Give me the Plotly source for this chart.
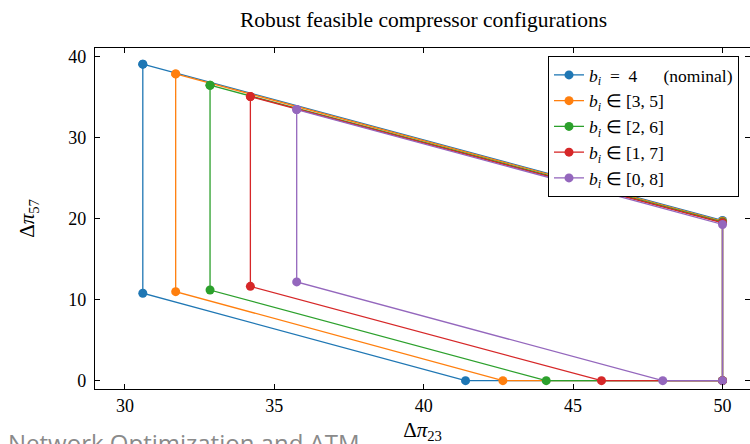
import plotly.graph_objects as go

# Data (Δπ23, Δπ57 polygon vertices)
series_names = [
    "<i>b<sub>i</sub></i>\u2002=\u20024\u2003\u2002(nominal)",
    "<i>b<sub>i</sub></i> ∈ [3, 5]",
    "<i>b<sub>i</sub></i> ∈ [2, 6]",
    "<i>b<sub>i</sub></i> ∈ [1, 7]",
    "<i>b<sub>i</sub></i> ∈ [0, 8]",
]
colors = ["#1f77b4", "#ff7f0e", "#2ca02c", "#d62728", "#9467bd"]

left_x = [30.6, 31.7, 32.85, 34.2, 35.75]
top_left_y = [39.1, 37.9, 36.5, 35.1, 33.5]
bottom_left_y = [10.8, 11.0, 11.2, 11.65, 12.2]
bottom_mid_x = [41.4, 42.65, 44.1, 45.95, 48.0]
right_x = [50.0, 50.0, 50.0, 50.0, 50.0]
top_right_y = [19.8, 19.7, 19.6, 19.5, 19.3]

x_ticks = [30, 35, 40, 45, 50]
y_ticks = [0, 10, 20, 30, 40]

W, H = 750, 444
ml, mt, mb, mr = 95, 48, 55, 0
plot_h = H - mt - mb

fig = go.Figure()
for i, name in enumerate(series_names):
    xs = [left_x[i], left_x[i], bottom_mid_x[i], right_x[i], right_x[i], left_x[i]]
    ys = [top_left_y[i], bottom_left_y[i], 0, 0, top_right_y[i], top_left_y[i]]
    fig.add_trace(go.Scatter(
        x=xs, y=ys, mode="lines+markers", name=name,
        line=dict(color=colors[i], width=1.3),
        marker=dict(color=colors[i], size=9),
    ))

serif = "Liberation Serif, Times New Roman, serif"

def py(p):
    return (H - mb - p) / plot_h

fig.update_layout(
    width=W, height=H,
    margin=dict(l=ml, r=mr, t=mt, b=mb),
    plot_bgcolor="white", paper_bgcolor="white",
    font=dict(family=serif, size=17, color="black"),
    title=dict(text="Robust feasible compressor configurations", x=(ml + 752) / 2 / W,
               xanchor="center", y=1 - 19 / H, yanchor="middle",
               font=dict(family=serif, size=21.5, color="black")),
    showlegend=True,
    legend=dict(x=1 - 11 / (W - ml), xanchor="right", y=1 - 8 / plot_h, yanchor="top",
                bordercolor="black", borderwidth=1, bgcolor="white",
                font=dict(family=serif, size=17.5), tracegroupgap=0),
    xaxis=dict(range=[29, 50.92], tickvals=x_ticks, ticks="inside", ticklen=5,
               showgrid=False, zeroline=False, showline=True, linecolor="black",
               linewidth=1.2, mirror="ticks", tickcolor="black",
               tickfont=dict(size=18),
               title=dict(text="Δ<i>π</i><sub>23</sub>", standoff=8,
                          font=dict(family=serif, size=21))),
    yaxis=dict(range=[-1.03, 41.1], tickvals=y_ticks, ticks="inside", ticklen=5,
               showgrid=False, zeroline=False, showline=True, linecolor="black",
               linewidth=1.2, mirror="ticks", tickcolor="black",
               tickfont=dict(size=18), ticklabelstandoff=4,
               title=dict(text="Δ<i>π</i><sub>57</sub>", standoff=27,
                          font=dict(family=serif, size=21))),
    annotations=[dict(text="Network Optimization and ATM", xref="paper", yref="paper",
                      x=-(ml - 6) / (W - ml), y=py(424), xanchor="left", yanchor="top",
                      showarrow=False,
                      font=dict(family="Open Sans, sans-serif", size=24, color="#8a8a8a"))],
)

fig.write_html("out.html")
